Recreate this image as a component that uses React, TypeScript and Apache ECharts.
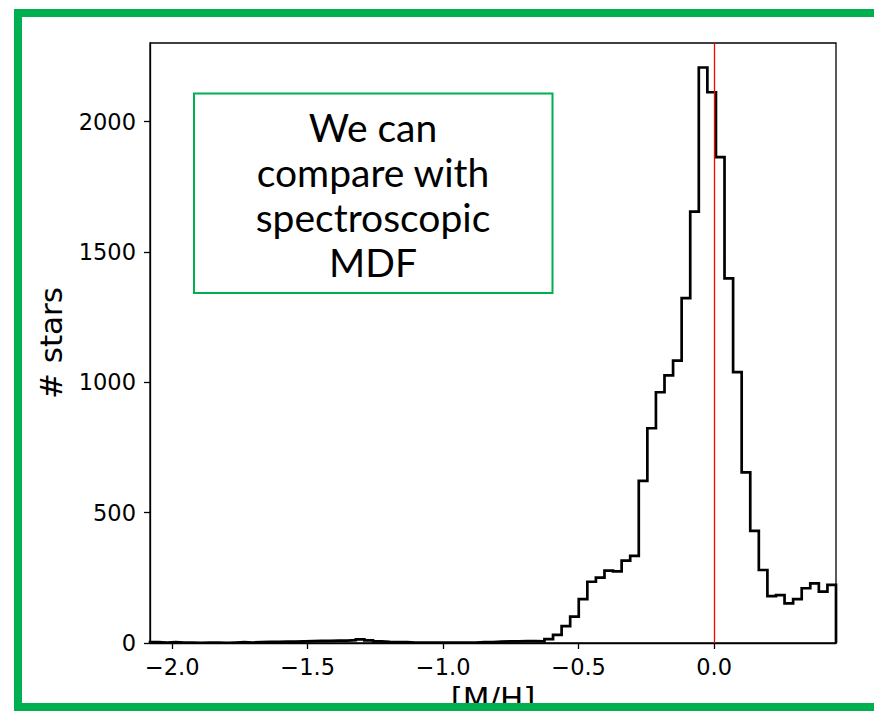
import { useEffect, useRef } from "react";
import * as echarts from "echarts";

// Histogram binning of [M/H]: 80 equal-width bins between these edges
const binStart = -2.082;
const binEnd = 0.45;

// Number of stars per [M/H] bin (left to right)
const starCounts = [
  3, 2, 3, 2, 2, 1, 2, 2, 1, 2,
  3, 2, 3, 4, 4, 5, 5, 6, 7, 8,
  8, 9, 9, 11, 14, 10, 6, 4, 3, 3,
  2, 2, 2, 2, 2, 2, 2, 2, 3, 3,
  5, 6, 6, 7, 7, 6, 15, 31, 65, 101,
  168, 235, 251, 278, 275, 316, 334, 622, 824, 962,
  1027, 1083, 1323, 1655, 2208, 2113, 1864, 1399, 1039, 655,
  430, 280, 180, 184, 152, 168, 210, 229, 197, 223,
];

const xTicks = [-2.0, -1.5, -1.0, -0.5, 0.0];
const yTicks = [0, 500, 1000, 1500, 2000];
const yMax = 2302;

// Solar reference metallicity
const solarMH = 0.0;

const noteLines = ["We can", "compare with", "spectroscopic", "MDF"];

const GREEN = "#00b050";

// Outline of a step histogram: up from zero at the first edge, across each bin, down at the last edge
function stepOutline(counts: number[], start: number, end: number): number[][] {
  const width = (end - start) / counts.length;
  const pts: number[][] = [[start, 0]];
  counts.forEach((c, i) => {
    const left = start + i * width;
    pts.push([left, c], [left + width, c]);
  });
  pts.push([end, 0]);
  return pts;
}

const fmtTick = (v: number) => v.toFixed(1).replace("-", "\u2212");

export default function App() {
  const ref = useRef<HTMLDivElement>(null);

  useEffect(() => {
    if (!ref.current) return;
    const chart = echarts.init(ref.current, null, { renderer: "svg" });
    const tickFont = { fontFamily: "DejaVu Sans", fontSize: 22.5, color: "#000" };

    chart.setOption({
      animation: false,
      backgroundColor: "#fff",
      grid: {
        left: 150,
        right: 38,
        top: 43,
        bottom: 68,
        outerBoundsMode: "none",
        containLabel: false,
        show: true,
        borderColor: "#000",
        borderWidth: 1.3,
        backgroundColor: "transparent",
      },
      xAxis: {
        type: "value",
        min: binStart,
        max: binEnd,
        name: "[M/H]",
        nameLocation: "middle",
        nameGap: 39,
        nameTextStyle: { fontFamily: "DejaVu Sans", fontSize: 31, color: "#000" },
        axisLine: { show: true, onZero: false, lineStyle: { color: "#000", width: 1.3 } },
        axisTick: {
          show: true,
          inside: false,
          length: 6,
          customValues: xTicks,
          lineStyle: { color: "#000", width: 1.3 },
        },
        axisLabel: {
          ...tickFont,
          margin: 12,
          customValues: xTicks,
          formatter: fmtTick,
        },
        splitLine: { show: false },
      },
      yAxis: {
        type: "value",
        min: 0,
        max: yMax,
        name: "# stars",
        nameLocation: "middle",
        nameGap: 84,
        nameTextStyle: { fontFamily: "DejaVu Sans", fontSize: 31, color: "#000" },
        axisLine: { show: true, onZero: false, lineStyle: { color: "#000", width: 1.3 } },
        axisTick: {
          show: true,
          inside: false,
          length: 6,
          customValues: yTicks,
          lineStyle: { color: "#000", width: 1.3 },
        },
        axisLabel: {
          ...tickFont,
          margin: 14,
          customValues: yTicks,
          formatter: (v: number) => String(v),
        },
        splitLine: { show: false },
      },
      series: [
        {
          type: "line",
          name: "MDF",
          data: stepOutline(starCounts, binStart, binEnd),
          showSymbol: false,
          symbol: "none",
          lineStyle: { color: "#000", width: 2.7, join: "miter" },
          z: 3,
          silent: true,
        },
        {
          type: "line",
          name: "solar",
          data: [],
          z: 4,
          silent: true,
          markLine: {
            silent: true,
            symbol: "none",
            label: { show: false },
            lineStyle: { color: "#ff0000", width: 1.3, type: "solid" },
            data: [{ xAxis: solarMH }],
          },
        },
      ],
      graphic: [
        // annotation box
        {
          type: "rect",
          shape: { x: 194, y: 93.5, width: 358.5, height: 199.5 },
          style: { fill: "#fff", stroke: GREEN, lineWidth: 2 },
          z: 10,
        },
        {
          type: "text",
          x: 373,
          y: 194,
          style: {
            text: noteLines.join("\n"),
            fontFamily: "Lato",
            fontSize: 39,
            lineHeight: 45,
            fill: "#000",
            align: "center",
            verticalAlign: "middle",
          },
          z: 11,
        },
        // slide frame
        { type: "rect", shape: { x: 14, y: 9, width: 860, height: 8 }, style: { fill: GREEN }, z: 20 },
        { type: "rect", shape: { x: 14, y: 9, width: 8, height: 702 }, style: { fill: GREEN }, z: 20 },
        { type: "rect", shape: { x: 14, y: 703, width: 860, height: 8 }, style: { fill: GREEN }, z: 20 },
      ],
    });

    return () => chart.dispose();
  }, []);

  return (
    <div
      ref={ref}
      style={{ position: "absolute", left: 0, top: 0, width: 874, height: 711 }}
    />
  );
}
